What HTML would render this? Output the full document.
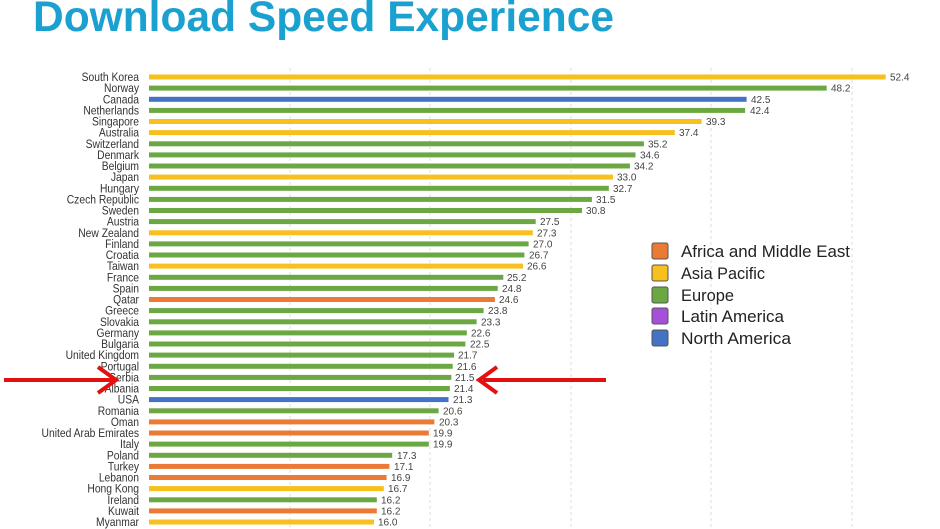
<!DOCTYPE html>
<html><head><meta charset="utf-8"><style>
html,body{margin:0;padding:0;background:#fff;}
svg{display:block;}
.l{font:12px "Liberation Sans",sans-serif;fill:#333;text-anchor:end;transform:translate(139px,0) scale(.86,1) translate(-139px,0);}
.v{font:10px "Liberation Sans",sans-serif;fill:#444;transform-box:fill-box;}
.lg{font:16.5px "Liberation Sans",sans-serif;fill:#222;}
.Y{fill:#F7C01E}.G{fill:#6BA843}.B{fill:#4472C4}.O{fill:#EB7A35}
</style></head><body>
<svg width="940" height="529" viewBox="0 0 940 529" xmlns="http://www.w3.org/2000/svg">
<text x="33" y="31" style="font:bold 42.5px 'Liberation Sans',sans-serif;fill:#1BA1D0">Download Speed Experience</text>
<g stroke="#ddd" stroke-dasharray="3,3" stroke-width="1">
<line x1="290" y1="68" x2="290" y2="529"/><line x1="430" y1="68" x2="430" y2="529"/><line x1="571" y1="68" x2="571" y2="529"/><line x1="711" y1="68" x2="711" y2="529"/><line x1="852" y1="68" x2="852" y2="529"/>
</g>
<g transform="translate(0,77)"><text class="l" x="139" y="4">South Korea</text><rect class="Y" x="149" y="-2.5" width="736.7" height="5"/><text class="v" x="890" y="3.5">52.4</text></g>
<g transform="translate(0,88.1)"><text class="l" x="139" y="4">Norway</text><rect class="G" x="149" y="-2.5" width="677.7" height="5"/><text class="v" x="831" y="3.5">48.2</text></g>
<g transform="translate(0,99.3)"><text class="l" x="139" y="4">Canada</text><rect class="B" x="149" y="-2.5" width="597.6" height="5"/><text class="v" x="751" y="3.5">42.5</text></g>
<g transform="translate(0,110.4)"><text class="l" x="139" y="4">Netherlands</text><rect class="G" x="149" y="-2.5" width="596.1" height="5"/><text class="v" x="750" y="3.5">42.4</text></g>
<g transform="translate(0,121.5)"><text class="l" x="139" y="4">Singapore</text><rect class="Y" x="149" y="-2.5" width="552.6" height="5"/><text class="v" x="706" y="3.5">39.3</text></g>
<g transform="translate(0,132.6)"><text class="l" x="139" y="4">Australia</text><rect class="Y" x="149" y="-2.5" width="525.8" height="5"/><text class="v" x="679" y="3.5">37.4</text></g>
<g transform="translate(0,143.8)"><text class="l" x="139" y="4">Switzerland</text><rect class="G" x="149" y="-2.5" width="494.9" height="5"/><text class="v" x="648" y="3.5">35.2</text></g>
<g transform="translate(0,154.9)"><text class="l" x="139" y="4">Denmark</text><rect class="G" x="149" y="-2.5" width="486.5" height="5"/><text class="v" x="640" y="3.5">34.6</text></g>
<g transform="translate(0,166)"><text class="l" x="139" y="4">Belgium</text><rect class="G" x="149" y="-2.5" width="480.9" height="5"/><text class="v" x="634" y="3.5">34.2</text></g>
<g transform="translate(0,177.1)"><text class="l" x="139" y="4">Japan</text><rect class="Y" x="149" y="-2.5" width="464" height="5"/><text class="v" x="617" y="3.5">33.0</text></g>
<g transform="translate(0,188.3)"><text class="l" x="139" y="4">Hungary</text><rect class="G" x="149" y="-2.5" width="459.8" height="5"/><text class="v" x="613" y="3.5">32.7</text></g>
<g transform="translate(0,199.4)"><text class="l" x="139" y="4">Czech Republic</text><rect class="G" x="149" y="-2.5" width="442.9" height="5"/><text class="v" x="596" y="3.5">31.5</text></g>
<g transform="translate(0,210.5)"><text class="l" x="139" y="4">Sweden</text><rect class="G" x="149" y="-2.5" width="433" height="5"/><text class="v" x="586" y="3.5">30.8</text></g>
<g transform="translate(0,221.6)"><text class="l" x="139" y="4">Austria</text><rect class="G" x="149" y="-2.5" width="386.7" height="5"/><text class="v" x="540" y="3.5">27.5</text></g>
<g transform="translate(0,232.8)"><text class="l" x="139" y="4">New Zealand</text><rect class="Y" x="149" y="-2.5" width="383.8" height="5"/><text class="v" x="537" y="3.5">27.3</text></g>
<g transform="translate(0,243.9)"><text class="l" x="139" y="4">Finland</text><rect class="G" x="149" y="-2.5" width="379.6" height="5"/><text class="v" x="533" y="3.5">27.0</text></g>
<g transform="translate(0,255)"><text class="l" x="139" y="4">Croatia</text><rect class="G" x="149" y="-2.5" width="375.4" height="5"/><text class="v" x="529" y="3.5">26.7</text></g>
<g transform="translate(0,266.1)"><text class="l" x="139" y="4">Taiwan</text><rect class="Y" x="149" y="-2.5" width="374" height="5"/><text class="v" x="527" y="3.5">26.6</text></g>
<g transform="translate(0,277.3)"><text class="l" x="139" y="4">France</text><rect class="G" x="149" y="-2.5" width="354.3" height="5"/><text class="v" x="507" y="3.5">25.2</text></g>
<g transform="translate(0,288.4)"><text class="l" x="139" y="4">Spain</text><rect class="G" x="149" y="-2.5" width="348.7" height="5"/><text class="v" x="502" y="3.5">24.8</text></g>
<g transform="translate(0,299.5)"><text class="l" x="139" y="4">Qatar</text><rect class="O" x="149" y="-2.5" width="345.9" height="5"/><text class="v" x="499" y="3.5">24.6</text></g>
<g transform="translate(0,310.6)"><text class="l" x="139" y="4">Greece</text><rect class="G" x="149" y="-2.5" width="334.6" height="5"/><text class="v" x="488" y="3.5">23.8</text></g>
<g transform="translate(0,321.8)"><text class="l" x="139" y="4">Slovakia</text><rect class="G" x="149" y="-2.5" width="327.6" height="5"/><text class="v" x="481" y="3.5">23.3</text></g>
<g transform="translate(0,332.9)"><text class="l" x="139" y="4">Germany</text><rect class="G" x="149" y="-2.5" width="317.8" height="5"/><text class="v" x="471" y="3.5">22.6</text></g>
<g transform="translate(0,344)"><text class="l" x="139" y="4">Bulgaria</text><rect class="G" x="149" y="-2.5" width="316.4" height="5"/><text class="v" x="470" y="3.5">22.5</text></g>
<g transform="translate(0,355.1)"><text class="l" x="139" y="4">United Kingdom</text><rect class="G" x="149" y="-2.5" width="305.1" height="5"/><text class="v" x="458" y="3.5">21.7</text></g>
<g transform="translate(0,366.3)"><text class="l" x="139" y="4">Portugal</text><rect class="G" x="149" y="-2.5" width="303.7" height="5"/><text class="v" x="457" y="3.5">21.6</text></g>
<g transform="translate(0,377.4)"><text class="l" x="139" y="4">Serbia</text><rect class="G" x="149" y="-2.5" width="302.3" height="5"/><text class="v" x="455" y="3.5">21.5</text></g>
<g transform="translate(0,388.5)"><text class="l" x="139" y="4">Albania</text><rect class="G" x="149" y="-2.5" width="300.9" height="5"/><text class="v" x="454" y="3.5">21.4</text></g>
<g transform="translate(0,399.6)"><text class="l" x="139" y="4">USA</text><rect class="B" x="149" y="-2.5" width="299.5" height="5"/><text class="v" x="453" y="3.5">21.3</text></g>
<g transform="translate(0,410.8)"><text class="l" x="139" y="4">Romania</text><rect class="G" x="149" y="-2.5" width="289.6" height="5"/><text class="v" x="443" y="3.5">20.6</text></g>
<g transform="translate(0,421.9)"><text class="l" x="139" y="4">Oman</text><rect class="O" x="149" y="-2.5" width="285.4" height="5"/><text class="v" x="439" y="3.5">20.3</text></g>
<g transform="translate(0,433)"><text class="l" x="139" y="4">United Arab Emirates</text><rect class="O" x="149" y="-2.5" width="279.8" height="5"/><text class="v" x="433" y="3.5">19.9</text></g>
<g transform="translate(0,444.1)"><text class="l" x="139" y="4">Italy</text><rect class="G" x="149" y="-2.5" width="279.8" height="5"/><text class="v" x="433" y="3.5">19.9</text></g>
<g transform="translate(0,455.3)"><text class="l" x="139" y="4">Poland</text><rect class="G" x="149" y="-2.5" width="243.2" height="5"/><text class="v" x="397" y="3.5">17.3</text></g>
<g transform="translate(0,466.4)"><text class="l" x="139" y="4">Turkey</text><rect class="O" x="149" y="-2.5" width="240.4" height="5"/><text class="v" x="394" y="3.5">17.1</text></g>
<g transform="translate(0,477.5)"><text class="l" x="139" y="4">Lebanon</text><rect class="O" x="149" y="-2.5" width="237.6" height="5"/><text class="v" x="391" y="3.5">16.9</text></g>
<g transform="translate(0,488.6)"><text class="l" x="139" y="4">Hong Kong</text><rect class="Y" x="149" y="-2.5" width="234.8" height="5"/><text class="v" x="388" y="3.5">16.7</text></g>
<g transform="translate(0,499.8)"><text class="l" x="139" y="4">Ireland</text><rect class="G" x="149" y="-2.5" width="227.8" height="5"/><text class="v" x="381" y="3.5">16.2</text></g>
<g transform="translate(0,510.9)"><text class="l" x="139" y="4">Kuwait</text><rect class="O" x="149" y="-2.5" width="227.8" height="5"/><text class="v" x="381" y="3.5">16.2</text></g>
<g transform="translate(0,522)"><text class="l" x="139" y="4">Myanmar</text><rect class="Y" x="149" y="-2.5" width="225" height="5"/><text class="v" x="378" y="3.5">16.0</text></g>
<g stroke="#555" stroke-width="1">
<rect x="652" y="243" width="16" height="16" rx="2" fill="#EB7A35"/>
<rect x="652" y="265" width="16" height="16" rx="2" fill="#F7C01E"/>
<rect x="652" y="287" width="16" height="16" rx="2" fill="#6BA843"/>
<rect x="652" y="308" width="16" height="16" rx="2" fill="#A64FD8"/>
<rect x="652" y="330" width="16" height="16" rx="2" fill="#4472C4"/>
</g>
<text class="lg" x="681" y="257" textLength="169" lengthAdjust="spacingAndGlyphs">Africa and Middle East</text>
<text class="lg" x="681" y="279" textLength="84" lengthAdjust="spacingAndGlyphs">Asia Pacific</text>
<text class="lg" x="681" y="301" textLength="53" lengthAdjust="spacingAndGlyphs">Europe</text>
<text class="lg" x="681" y="322" textLength="103" lengthAdjust="spacingAndGlyphs">Latin America</text>
<text class="lg" x="681" y="344" textLength="110" lengthAdjust="spacingAndGlyphs">North America</text>
<g stroke="#E41010" stroke-width="4" fill="none">
<line x1="4" y1="380" x2="114" y2="380"/>
<polyline points="98,367 116,380 98,393"/>
<line x1="483" y1="380" x2="606" y2="380"/>
<polyline points="497,367 479,380 497,393"/>
</g>
</svg>
</body></html>
